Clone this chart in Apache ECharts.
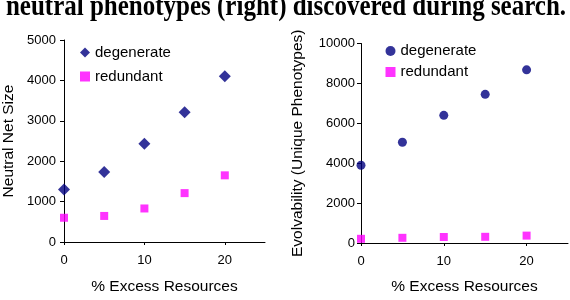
<!DOCTYPE html>
<html><head><meta charset="utf-8">
<script src="https://cdn.jsdelivr.net/npm/echarts@6/dist/echarts.min.js"></script>
<style>html,body{margin:0;padding:0;background:#fff}#c{width:570px;height:300px}</style>
</head><body><div id="c"></div>
<script>
const excess = [0, 5, 10, 15, 20];
const netDegenerate = [1300, 1730, 2430, 3210, 4100];
const netRedundant = [600, 645, 830, 1210, 1650];
const evoDegenerate = [3900, 5050, 6400, 7450, 8680];
const evoRedundant = [210, 260, 300, 310, 370];
const xTicks = [0, 10, 20];
const captionText = 'neutral phenotypes (right) discovered during search.';

const pair = (xs, ys) => xs.map((x, i) => [x, ys[i]]);
const font = '"Liberation Sans", Arial, sans-serif';
const NAVY = '#000080', MAG = '#ff00ff';

const chart = echarts.init(document.getElementById('c'), null, {renderer: 'canvas'});
const axisLine = {lineStyle: {color: '#000', width: 1}};
function xAxis(gi, gap) {
  return {
    type: 'value', gridIndex: gi, min: 0, max: 25,
    name: '% Excess Resources', nameLocation: 'middle', nameGap: gap,
    nameTextStyle: {fontFamily: font, fontSize: 15.5, color: '#000'},
    axisLine: axisLine,
    axisTick: {show: true, length: 3, customValues: xTicks, lineStyle: {color: '#000'}},
    axisLabel: {customValues: xTicks, margin: 12, fontFamily: font, fontSize: 13, color: '#000',
                formatter: v => String(v)},
    splitLine: {show: false}
  };
}
function yAxis(gi, max, interval, name, gap, lm) {
  return {
    type: 'value', gridIndex: gi, min: 0, max: max, interval: interval,
    name: name, nameLocation: 'middle', nameGap: gap,
    nameTextStyle: {fontFamily: font, fontSize: 15.5, color: '#000'},
    axisLine: Object.assign({show: true}, axisLine),
    axisTick: {show: true, length: 4, lineStyle: {color: '#000'}},
    axisLabel: {margin: lm, fontFamily: font, fontSize: 13, color: '#000', formatter: v => String(v)},
    splitLine: {show: false}
  };
}
function legend(left, top, gap, ids) {
  return {
    orient: 'vertical', left: left, top: top, itemGap: gap,
    itemWidth: 10, itemHeight: 10,
    textStyle: {fontFamily: font, fontSize: 15, color: '#000', lineHeight: 16},
    data: ids
  };
}
chart.setOption({
  animation: false,
  grid: [
    {left: 62, top: 40, width: 203, height: 206},
    {left: 361, top: 43.5, width: 207, height: 208}
  ],
  xAxis: [xAxis(0, 37), xAxis(1, 36)],
  yAxis: [
    yAxis(0, 5000, 1000, 'Neutral Net Size', 47, 8),
    yAxis(1, 10000, 2000, 'Evolvability (Unique Phenotypes)', 55, 6)
  ],
  legend: [
    legend(75, 39.5, 8, [{name: 'degenerate', icon: 'diamond'}, {name: 'redundant', icon: 'rect'}]),
    legend(380.5, 38, 5, [{name: 'degenerate ', icon: 'circle'}, {name: 'redundant ', icon: 'rect'}])
  ],
  series: [
    {type: 'scatter', name: 'degenerate', xAxisIndex: 0, yAxisIndex: 0, symbol: 'diamond', symbolSize: 12,
     itemStyle: {color: NAVY}, data: pair(excess, netDegenerate)},
    {type: 'scatter', name: 'redundant', xAxisIndex: 0, yAxisIndex: 0, symbol: 'rect', symbolSize: 8,
     itemStyle: {color: MAG}, data: pair(excess, netRedundant)},
    {type: 'scatter', name: 'degenerate ', xAxisIndex: 1, yAxisIndex: 1, symbol: 'circle', symbolSize: 9,
     itemStyle: {color: NAVY}, data: pair(excess, evoDegenerate)},
    {type: 'scatter', name: 'redundant ', xAxisIndex: 1, yAxisIndex: 1, symbol: 'rect', symbolSize: 8,
     itemStyle: {color: MAG}, data: pair(excess, evoRedundant)}
  ],
  graphic: [{
    type: 'text', x: 286, y: 22, scaleY: 1.2,
    style: {text: captionText, fontFamily: '"Liberation Serif", "Times New Roman", serif', fontWeight: 'bold',
            fontSize: 25, fill: '#000', align: 'center', verticalAlign: 'bottom'}
  }]
});
</script></body></html>
